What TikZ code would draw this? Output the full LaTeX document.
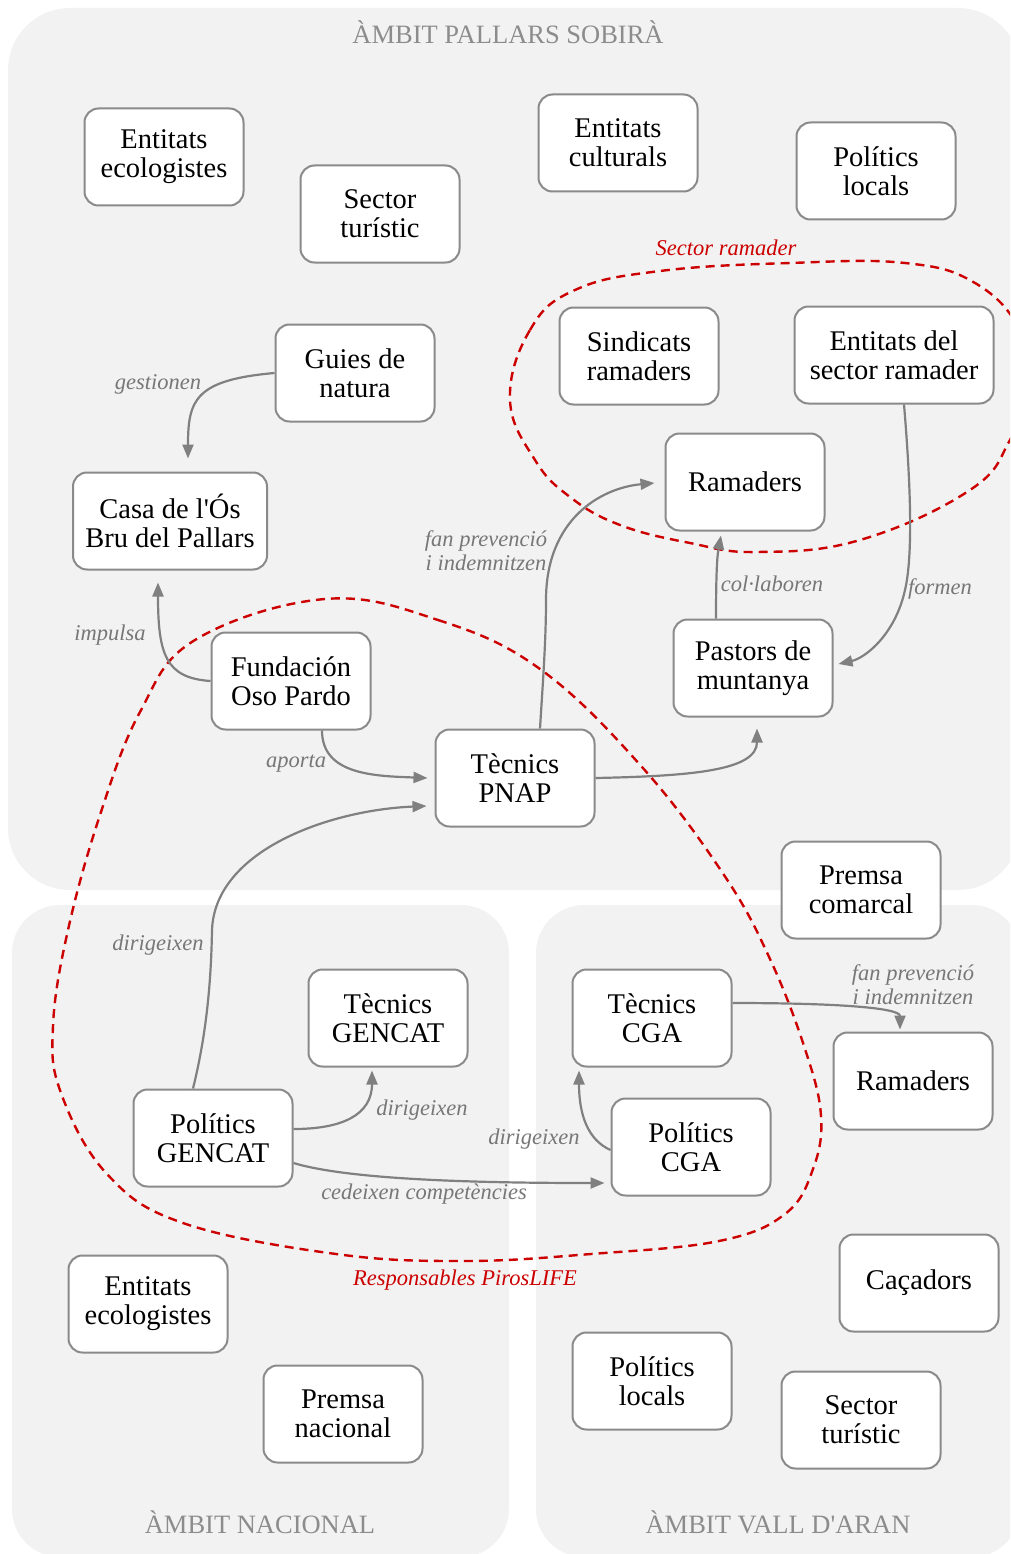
\documentclass[tikz,border=0pt]{standalone}
\usepackage{fontspec}
\setmainfont{Liberation Serif}
\usetikzlibrary{arrows.meta,calc}
\definecolor{bgc}{HTML}{F2F2F2}
\definecolor{bordergray}{HTML}{8A8A8A}
\definecolor{edgegray}{HTML}{808080}
\definecolor{labelgray}{HTML}{777777}
\definecolor{titlegray}{HTML}{8C8C8C}
\definecolor{rdash}{HTML}{CC0000}
\begin{document}
\begin{tikzpicture}[x=1pt,y=-1pt,
  box/.style={draw=bordergray, line width=2pt, fill=white, rounded corners=14pt,
    minimum width=159pt, minimum height=97pt, align=center, inner sep=0pt,
    text=black, font=\fontsize{28.5}{29}\selectfont},
  edge/.style={draw=edgegray, line width=2.2pt, -{Triangle[length=14pt,width=11pt]}},
  lbl/.style={text=labelgray, inner sep=0pt, align=center, font=\fontsize{22.5}{24}\selectfont\itshape},
  rlbl/.style={text=rdash, inner sep=0pt, font=\fontsize{22.5}{24}\selectfont\itshape},
  ttl/.style={text=titlegray, inner sep=0pt, font=\fontsize{26.5}{28}\selectfont},
  rcurve/.style={draw=rdash, line width=2.4pt, dash pattern=on 9pt off 6pt}
]
\useasboundingbox (0,0) rectangle (1010,1554);
\begin{scope}
\clip (0,0) rectangle (1010,1554);
\fill[bgc, rounded corners=62pt] (8,8) rectangle (1020,890);
\fill[bgc, rounded corners=48pt] (12,905) rectangle (509,1557);
\fill[bgc, rounded corners=48pt] (536,905) rectangle (1020,1557);
\draw[rcurve] plot[smooth cycle, tension=0.7] coordinates {(510,400) (530,330) (575,290) (660,271) (790,263) (905,263) (975,283) (1020,330) (1030,385) (1010,440) (970,490) (860,540) (757,552) (690,543) (620,525) (570,497) (535,460)};
\draw[rcurve] plot[smooth cycle, tension=0.65] coordinates {(325,599) (438,620) (540,669) (642,767) (724,875) (770,959) (805,1049) (821,1116) (813,1169) (785,1214) (719,1241) (591,1254) (464,1261) (336,1254) (183,1223) (107,1174) (61,1093) (53,1026) (68,930) (100,815) (140,712) (195,640)};
\end{scope}

\node[ttl] (t1) at (508,32) {ÀMBIT PALLARS SOBIRÀ};
\node[ttl] (t2) at (260,1522) {ÀMBIT NACIONAL};
\node[ttl] (t3) at (778,1522) {ÀMBIT VALL D\textquotesingle ARAN};

\node[box] (eeco) at (164,157) {Entitats\\ecologistes};
\node[box] (stur) at (380,214) {Sector\\turístic};
\node[box] (ecul) at (618,143) {Entitats\\culturals};
\node[box] (ploc) at (876,171) {Polítics\\locals};
\node[box] (sind) at (639,356) {Sindicats\\ramaders};
\node[box, minimum width=199pt] (esr) at (894,355) {Entitats del\\sector ramader};
\node[box] (guies) at (355,373) {Guies de\\natura};
\node[box, minimum width=194pt] (casa) at (170,521) {Casa de l\textquotesingle Ós\\Bru del Pallars};
\node[box] (ram) at (745,482) {Ramaders};
\node[box] (fop) at (291,681) {Fundación\\Oso Pardo};
\node[box] (past) at (753,668) {Pastors de\\muntanya};
\node[box] (pnap) at (515,778) {Tècnics\\PNAP};
\node[box] (pcom) at (861,890) {Premsa\\comarcal};
\node[box] (tgen) at (388,1018) {Tècnics\\GENCAT};
\node[box] (tcga) at (652,1018) {Tècnics\\CGA};
\node[box] (ram2) at (913,1081) {Ramaders};
\node[box] (pgen) at (213,1138) {Polítics\\GENCAT};
\node[box] (pcga) at (691,1147) {Polítics\\CGA};
\node[box] (cac) at (919,1283) {Caçadors};
\node[box] (eeco2) at (148,1304) {Entitats\\ecologistes};
\node[box] (ploc2) at (652,1381) {Polítics\\locals};
\node[box] (pnac) at (343,1414) {Premsa\\nacional};
\node[box] (stur2) at (861,1420) {Sector\\turístic};

\draw[edge] (guies.west) .. controls (195,380) and (188,400) .. ($(casa.north)+(18,-13)$);
\draw[edge] (fop.west) .. controls (166,678) and (158,655) .. ($(casa.south)+(-12,12)$);
\draw[edge] ($(fop.south)+(31,0)$) .. controls (322,775) and (375,776) .. ($(pnap.west)+(-7,0)$);
\draw[edge] ($(pnap.north)+(25,0)$) .. controls (543,680) and (546,640) .. (546,600) .. controls (546,520) and (600,488) .. ($(ram.west)+(-10,1)$);
\draw[edge] (pnap.east) .. controls (695,776) and (757,770) .. ($(past.south)+(4,11)$);
\draw[edge] ($(past.north)+(-37,0)$) .. controls (716,560) and (718,552) .. ($(ram.south)+(-24,4)$);
\draw[edge] ($(esr.south)+(10,0)$) .. controls (912,500) and (912,560) .. (905,590) .. controls (895,635) and (865,658) .. ($(past.east)+(5,-4)$);
\draw[edge] ($(pgen.north)+(-20,0)$) .. controls (205,1040) and (211,990) .. (212,930) .. controls (215,850) and (330,810) .. ($(pnap.west)+(-8,28)$);
\draw[edge] ($(pgen.east)+(0,-9)$) .. controls (342,1129) and (372,1115) .. ($(tgen.south)+(-16,3)$);
\draw[edge] ($(pgen.east)+(0,25)$) .. controls (350,1180) and (480,1183) .. ($(pcga.west)+(-6,36)$);
\draw[edge] ($(pcga.west)+(0,3)$) .. controls (588,1140) and (579,1115) .. ($(tcga.south)+(-73,3)$);
\draw[edge] ($(tcga.east)+(0,-15)$) .. controls (840,1003) and (900,1008) .. ($(ram2.north)+(-13,-2)$);

\node[lbl] (l1) at (158,384) {gestionen};
\node[lbl] (l2) at (110,635) {impulsa};
\node[lbl] (l3) at (296,764) {aporta};
\node[lbl] (l4) at (486,551) {fan prevenció\\i indemnitzen};
\node[lbl] (l5) at (772,584) {col·laboren};
\node[lbl] (l6) at (940,589) {formen};
\node[lbl] (l7) at (158,945) {dirigeixen};
\node[lbl] (l8) at (422,1110) {dirigeixen};
\node[lbl] (l9) at (424,1194) {cedeixen competències};
\node[lbl] (l10) at (534,1139) {dirigeixen};
\node[lbl] (l11) at (913,985) {fan prevenció\\i indemnitzen};
\node[rlbl] (l12) at (726,248) {Sector ramader};
\node[rlbl] (l13) at (465,1280) {Responsables PirosLIFE};
\end{tikzpicture}
\end{document}
